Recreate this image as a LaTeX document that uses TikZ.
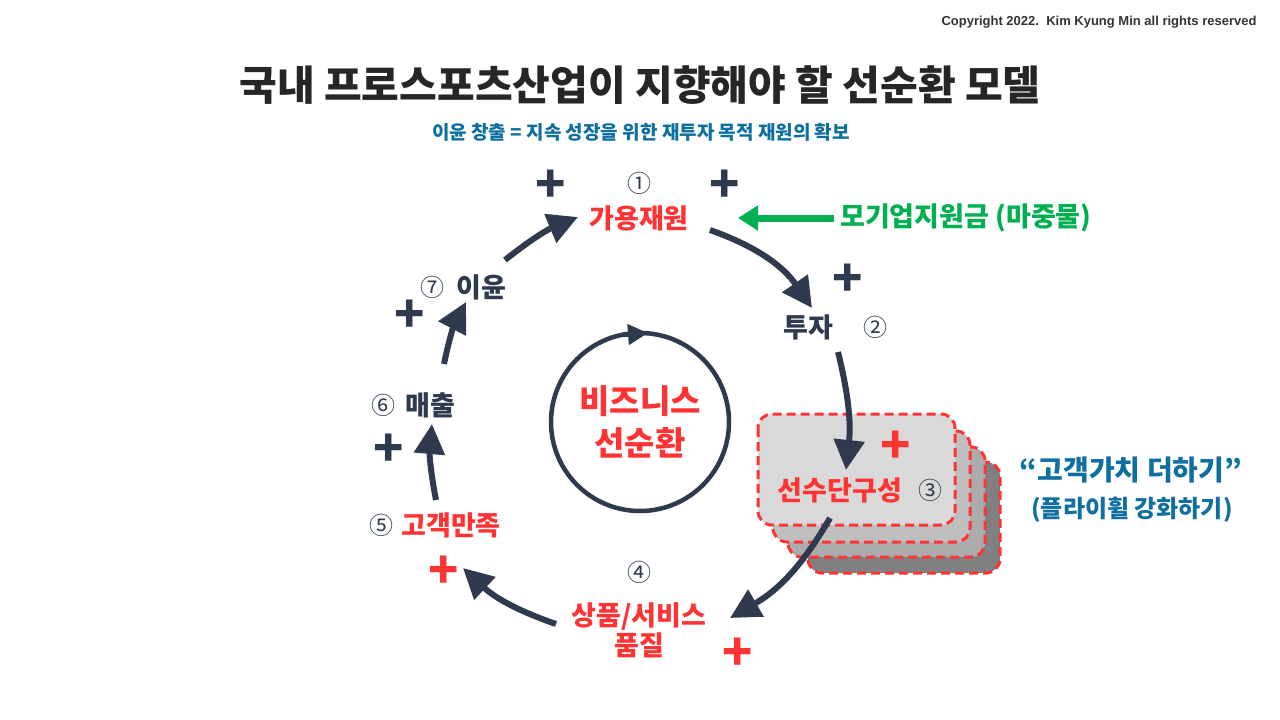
\documentclass[tikz,border=0pt]{standalone}
\usepackage{fontspec}
\setmainfont{Liberation Sans}
\newfontfamily\kr{Noto Sans CJK KR}
\usetikzlibrary{arrows.meta}
\definecolor{navy}{HTML}{2F3A4F}
\definecolor{rd}{HTML}{FF3333}
\definecolor{gr}{HTML}{00B050}
\definecolor{bl}{HTML}{0E6FA0}
\tikzset{
 ring/.style={line width=6pt,navy,-{Triangle[length=30pt,width=30pt]}},
 lbl/.style={font=\kr\bfseries\fontsize{27}{30}\selectfont,text=navy},
 rl/.style={lbl,text=rd},
 num/.style={font=\kr\fontsize{24}{24}\selectfont,text=navy},
 pl/.style={font=\kr\bfseries\fontsize{50}{50}\selectfont,text=navy,inner sep=0},
 rpl/.style={pl,text=rd},
 card/.style={draw=rd,line width=3pt,dash pattern=on 9pt off 5pt,rounded corners=14pt}
}
\begin{document}
\begin{tikzpicture}[x=1pt,y=-1pt]
\useasboundingbox[fill=white] (0,0) rectangle (1280,720);
\node[anchor=east,font=\bfseries\fontsize{13}{14}\selectfont,text=black!80] (cp) at (1260,22) {Copyright 2022.\ \ Kim Kyung Min all rights reserved};
\node[font=\kr\bfseries\fontsize{41}{44}\selectfont,text=black!85] (title) at (640,85) {국내 프로스포츠산업이 지향해야 할 선순환 모델};
\node[font=\kr\bfseries\fontsize{19}{22}\selectfont,text=bl] (sub) at (641,132) {이윤 창출 = 지속 성장을 위한 재투자 목적 재원의 확보};
% cards
\draw[card,fill=black!50] (808,462) rectangle (1000,573);
\draw[card,fill=black!33] (788,447) rectangle (985,557);
\draw[card,fill=black!25] (773,431) rectangle (970,542);
\draw[card,fill=black!15] (758,414) rectangle (955,525);
% labels
\node[rl] (n1) at (639,218) {가용재원};
\node[num] (c1) at (639,183) {①};
\node[lbl] (n2) at (808,327) {투자};
\node[num] (c2) at (875,327) {②};
\node[rl] (n3) at (840,490) {선수단구성};
\node[num] (c3) at (930,490) {③};
\node[rl,align=center] (n4) at (639,630) {상품/서비스\\품질};
\node[num] (c4) at (639,572) {④};
\node[rl] (n5) at (451,525) {고객만족};
\node[num] (c5) at (381,525) {⑤};
\node[lbl] (n6) at (430,405) {매출};
\node[num] (c6) at (383,405) {⑥};
\node[lbl] (n7) at (481,287) {이윤};
\node[num] (c7) at (432,287) {⑦};
\node[lbl,text=gr,anchor=west,inner sep=0] (mo) at (840,218) {모기업지원금 (마중물)};
\node[font=\kr\bfseries\fontsize{28}{30}\selectfont,text=bl] (q1) at (1131,470) {“고객가치 더하기”};
\node[font=\kr\bfseries\fontsize{24}{26}\selectfont,text=bl] (q2) at (1132,510) {(플라이휠 강화하기)};
% plus signs
\node[pl] at (551,186) {+};
\node[pl] at (725,186) {+};
\node[pl] at (848,280) {+};
\node[rpl] at (896,447) {+};
\node[rpl] at (738,654) {+};
\node[rpl] at (444,572) {+};
\node[pl] at (389,450) {+};
\node[pl] at (410,316) {+};
% ring arrows
\coordinate (a1) at (710,230); \coordinate (b1) at (812,308);
\draw[ring] (a1) to[bend left=18] (b1);
\coordinate (a2) at (838,352); \coordinate (b2) at (846,470);
\draw[ring] (a2) to[bend left=10] (b2);
\coordinate (a3) at (830,518); \coordinate (b3) at (730,618);
\draw[ring] (a3) to[bend left=15] (b3);
\coordinate (a4) at (556,624); \coordinate (b4) at (463,568);
\draw[ring] (a4) to[bend left=12] (b4);
\coordinate (a5) at (436,500); \coordinate (b5) at (432,424);
\draw[ring] (a5) to[bend left=8] (b5);
\coordinate (a6) at (444,364); \coordinate (b6) at (466,302);
\draw[ring] (a6) to[bend left=8] (b6);
\coordinate (a7) at (505,260); \coordinate (b7) at (578,217);
\draw[ring] (a7) to[bend left=8] (b7);
\draw[line width=7pt,gr,-{Triangle[length=20pt,width=24pt]}] ([xshift=-6pt]mo.west) -- (738,218);
% center circle
\node[circle,draw=navy,line width=4.5pt,minimum size=178pt,align=center,font=\kr\bfseries\fontsize{33}{42}\selectfont,text=rd] (cc) at (640,422) {비즈니스\\선순환};
\draw[navy,line width=4.5pt,-{Triangle[length=20pt,width=20pt]}] (622,335) -- (648,333);
\end{tikzpicture}
\end{document}
